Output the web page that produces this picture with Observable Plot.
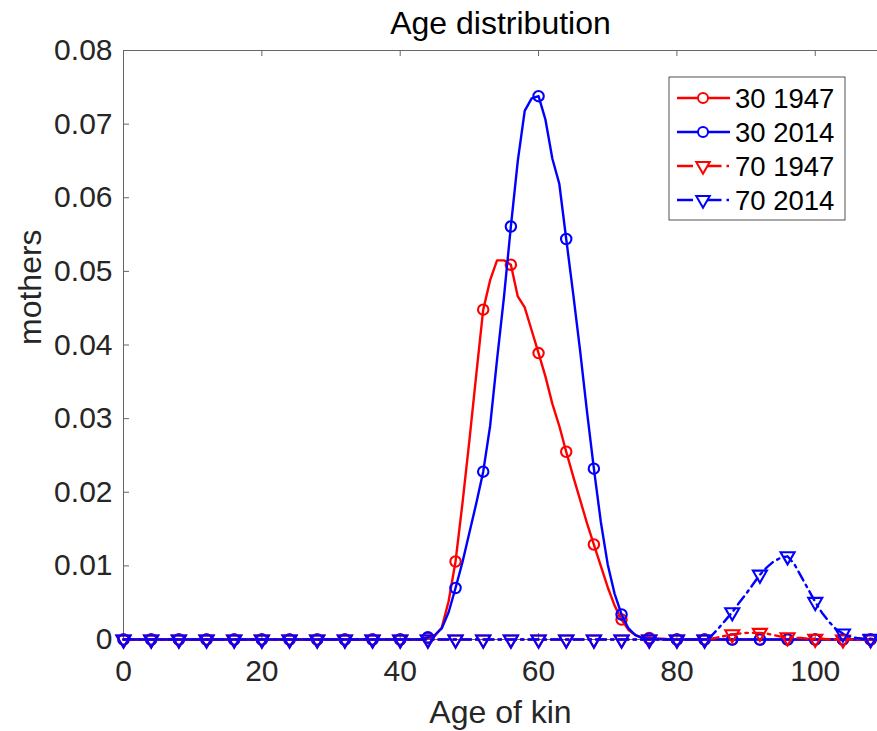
<!DOCTYPE html>
<html><head><meta charset="utf-8">
<script src="https://cdn.jsdelivr.net/npm/d3@7"></script>
<script src="https://cdn.jsdelivr.net/npm/@observablehq/plot@0.6"></script>
<style>
body{margin:0;background:#fff;}
#wrap{position:relative;width:877px;height:731px;overflow:hidden;}
#legend{position:absolute;left:0;top:0;}
</style></head><body><div id="wrap"></div>
<script>
const ages = [0,1,2,3,4,5,6,7,8,9,10,11,12,13,14,15,16,17,18,19,20,21,22,23,24,25,26,27,28,29,30,31,32,33,34,35,36,37,38,39,40,41,42,43,44,45,46,47,48,49,50,51,52,53,54,55,56,57,58,59,60,61,62,63,64,65,66,67,68,69,70,71,72,73,74,75,76,77,78,79,80,81,82,83,84,85,86,87,88,89,90,91,92,93,94,95,96,97,98,99,100,101,102,103,104,105,106,107,108,109];

const mothers30_1947 = [0,0,0,0,0,0,0,0,0,0, 0,0,0,0,0,0,0,0,0,0, 0,0,0,0,0,0,0,0,0,0, 0,0,0,0,0,0,0,0,0,0, 0,0,0,0,
  0.0002,0.0005,0.0016,0.0052,0.0106,0.0185,0.027,0.036,0.0448,0.0488,0.0515,0.0515,0.0509,0.0466,0.0451,0.042,
  0.0389,0.0357,0.032,0.029,0.0255,0.0222,0.019,0.0158,0.0129,0.0100,0.0071,0.0046,0.0027,0.0013,0.0006,0.0003,
  0.0002,0.0001,0.0001,0,
  0,0,0,0,0,0,0,0,0,0, 0,0,0,0,0,0,0,0,0,0, 0,0,0,0,0,0,0,0,0,0];

const mothers30_2014 = [0,0,0,0,0,0,0,0,0,0, 0,0,0,0,0,0,0,0,0,0, 0,0,0,0,0,0,0,0,0,0, 0,0,0,0,0,0,0,0,0,0, 0,0,0,0,
  0.0003,0.0006,0.0015,0.0037,0.007,0.0105,0.0145,0.0185,0.0228,0.029,0.038,0.0465,0.0561,0.065,0.0718,0.0735,
  0.0738,0.0706,0.0653,0.0619,0.0544,0.047,0.0393,0.031,0.0232,0.016,0.0102,0.0062,0.0034,0.0015,0.0006,0.0002,
  0.0001,0.0001,0,0,
  0,0,0,0,0,0,0,0,0,0, 0,0,0,0,0,0,0,0,0,0, 0,0,0,0,0,0,0,0,0,0];

const mothers70_1947 = [0,0,0,0,0,0,0,0,0,0, 0,0,0,0,0,0,0,0,0,0, 0,0,0,0,0,0,0,0,0,0, 0,0,0,0,0,0,0,0,0,0,
  0,0,0,0,0,0,0,0,0,0, 0,0,0,0,0,0,0,0,0,0, 0,0,0,0,0,0,0,0,0,0, 0,0,0,0,0,0,0,0,0,0, 0,0,0,0,0,
  0.0001,0.0003,0.0005,0.0007,0.0008,0.0009,0.0009,0.0009,0.0008,0.0006,0.0004,0.0003,0.0002,0.0002,0.0001,0.0001,0.0001,
  0,0,0,0,0,0,0,0];

const mothers70_2014 = [0,0,0,0,0,0,0,0,0,0, 0,0,0,0,0,0,0,0,0,0, 0,0,0,0,0,0,0,0,0,0, 0,0,0,0,0,0,0,0,0,0,
  0,0,0,0,0,0,0,0,0,0, 0,0,0,0,0,0,0,0,0,0, 0,0,0,0,0,0,0,0,0,0, 0,0,0,0,0,0,0,0,0,0, 0,0,0,0,0,
  0.0005,0.0015,0.0026,0.0037,0.005,0.0062,0.0075,0.0088,0.0098,0.0106,0.0111,0.0113,0.0102,0.0085,0.0068,0.0051,
  0.0036,0.0024,0.0014,0.0008,0.0004,0.0002,0.0001,0.0001,0];

const seriesNames = ["30 1947", "30 2014", "70 1947", "70 2014"];
const seriesValues = [mothers30_1947, mothers30_2014, mothers70_1947, mothers70_2014];
const seriesColors = ["#ff0000", "#0000ff", "#ff0000", "#0000ff"];
const seriesDash = [null, null, "10,5,2.5,5", "10,5,2.5,5"];
const seriesSymbol = ["circle", "circle", "triangle", "triangle"];
const seriesRotate = [0, 0, 180, 180];
const markerEvery = 4;

const xTicks = [0, 20, 40, 60, 80, 100];
const yTicks = [0, 0.01, 0.02, 0.03, 0.04, 0.05, 0.06, 0.07, 0.08];

const W = 877, H = 731, ML = 123, MR = 0, MT = 50, MB = 92;
const FW = W - ML - MR, FH = H - MT - MB;
const tickLen = 6;

const seriesMarks = seriesNames.flatMap((name, i) => {
  const rows = ages.map((a, j) => ({age: a, value: seriesValues[i][j]}));
  const pts = rows.filter(d => d.age % markerEvery === 0);
  return [
    Plot.line(rows, {x: "age", y: "value", stroke: seriesColors[i], strokeWidth: 2.4,
      strokeDasharray: seriesDash[i] || undefined, strokeLinejoin: "round"}),
    Plot.dot(pts, {x: "age", y: "value", symbol: seriesSymbol[i], rotate: seriesRotate[i],
      r: 5.2, stroke: seriesColors[i], strokeWidth: 2.1, fill: "none"})
  ];
});

const chart = Plot.plot({
  width: W, height: H,
  marginLeft: ML, marginRight: MR, marginTop: MT, marginBottom: MB,
  x: {domain: [0, 109]},
  y: {domain: [0, 0.08]},
  style: {fontFamily: "'Liberation Sans', Arial, Helvetica, sans-serif", fontSize: "30px", color: "#262626", background: "#fff", overflow: "visible"},
  marks: [
    Plot.ruleY([yTicks[yTicks.length - 1]], {stroke: "#666", strokeWidth: 1}),
    Plot.ruleX([0], {stroke: "#666", strokeWidth: 1}),
    Plot.ruleY([0], {stroke: "#666", strokeWidth: 1}),
    Plot.ruleX(xTicks, {stroke: "#666", strokeWidth: 1, insetTop: FH - tickLen}),
    Plot.ruleX(xTicks, {stroke: "#666", strokeWidth: 1, insetBottom: FH - tickLen}),
    Plot.ruleY(yTicks, {stroke: "#666", strokeWidth: 1, insetRight: FW - tickLen}),
    Plot.axisX({ticks: xTicks, tickSize: 0, tickPadding: 20, label: null, fontSize: 30}),
    Plot.axisY({ticks: yTicks, tickSize: 0, tickPadding: 11, label: null, fontSize: 30,
      tickFormat: d => d === 0 ? "0" : d.toFixed(2)}),
    ...seriesMarks,
    Plot.text(["Age distribution"], {text: d => d, frameAnchor: "top", lineAnchor: "middle", dy: -27, fontSize: 32, fill: "#000"}),
    Plot.text(["Age of kin"], {text: d => d, frameAnchor: "bottom", lineAnchor: "middle", dy: 73, fontSize: 32, fill: "#262626"}),
    Plot.text(["mothers"], {text: d => d, frameAnchor: "left", lineAnchor: "middle", dx: -93, rotate: -90, fontSize: 32, fill: "#262626"})
  ]
});

const wrap = document.getElementById("wrap");
wrap.appendChild(chart);

// Legend overlay
const lg = d3.select(wrap).append("svg").attr("id", "legend").attr("width", W).attr("height", H);
const box = {x: 669, y: 77, w: 176, h: 143};
lg.append("rect").attr("x", box.x).attr("y", box.y).attr("width", box.w).attr("height", box.h)
  .attr("fill", "#fff").attr("stroke", "#262626").attr("stroke-width", 0.8);
const rowY = [98, 132, 166, 200];
const sym = d3.symbol().size(Math.PI * 25);
seriesNames.forEach((name, i) => {
  const g = lg.append("g");
  g.append("line").attr("x1", 677).attr("x2", 730).attr("y1", rowY[i]).attr("y2", rowY[i])
    .attr("stroke", seriesColors[i]).attr("stroke-width", 2.4)
    .attr("stroke-dasharray", seriesDash[i] ? "16,5,2.5,5" : null);
  g.append("path")
    .attr("d", sym.type(seriesSymbol[i] === "circle" ? d3.symbolCircle : d3.symbolTriangle)())
    .attr("transform", `translate(703,${rowY[i]}) rotate(${seriesRotate[i]})`)
    .attr("fill", "#fff").attr("stroke", seriesColors[i]).attr("stroke-width", 2);
  g.append("text").attr("x", 735).attr("y", rowY[i]).attr("dy", "0.35em")
    .attr("font-family", "'Liberation Sans', Arial, sans-serif").attr("font-size", 27.5)
    .attr("fill", "#000").text(name);
});
</script></body></html>
